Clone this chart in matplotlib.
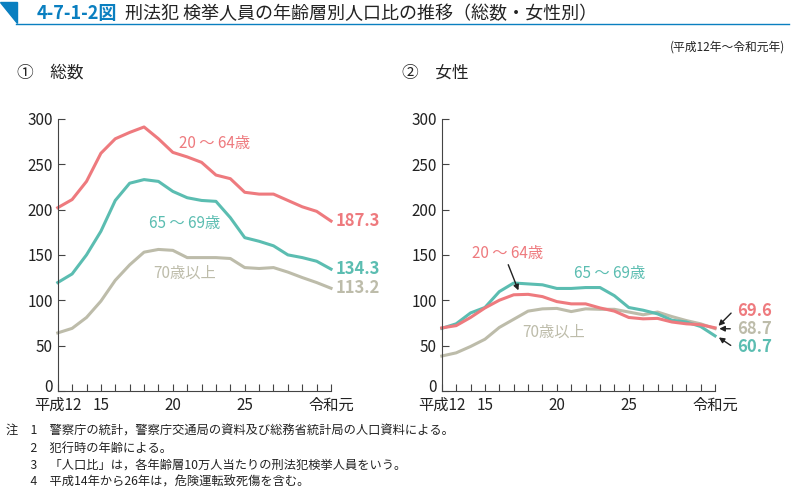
import numpy as np
import matplotlib
matplotlib.use("Agg")
import matplotlib.pyplot as plt
import matplotlib.transforms as mtransforms
from matplotlib.patches import Polygon

plt.rcParams['font.family'] = ['Noto Sans CJK JP', 'DejaVu Sans']

# years 平成12 .. 令和元 (20 points)
years = list(range(20))
tick_pos = [0, 3, 8, 13, 19]
tick_labels = ['平成12', '15', '20', '25', '令和元']

# ① 総数
total_20_64 = [202, 211, 231, 262, 278, 285, 291, 278, 263, 258, 252, 238, 234,
               219, 217, 217, 210, 203, 198, 187.3]
total_65_69 = [119.5, 129, 150, 176, 210, 229, 233, 231, 220, 213, 210, 209, 191,
               169, 165, 160, 150, 147, 143, 134.3]
total_70 = [64, 69, 81, 99, 122, 139, 153, 156, 155, 147, 147, 147, 146,
            136, 135, 136, 131, 125, 119.5, 113.2]

# ② 女性
female_20_64 = [69.5, 72, 81, 91.5, 100, 106, 106.5, 104, 98.5, 96, 96, 91.5, 88,
                81, 79.5, 80, 76, 74, 73, 69.6]
female_65_69 = [69, 74, 86, 92, 109.5, 119, 118, 117, 113, 113, 114, 114, 105,
                92, 89, 85, 78, 76, 71, 60.7]
female_70 = [38.5, 42, 49, 57, 70, 79, 88, 90.5, 91, 87.5, 90.5, 90, 90,
             87, 84, 87, 82, 77.6, 74, 68.7]

RED = '#ee7a7e'
TEAL = '#5bbdb1'
GRAY = '#bdbcaa'
BLUE = '#0a7fc0'
TXT = '#222222'

fig = plt.figure(figsize=(7.91, 4.93), dpi=100)

# title bar
fig.patches.append(Polygon([[0, 0.996], [0.021, 0.996], [0.021, 0.953]],
                           closed=True, transform=fig.transFigure,
                           color=BLUE, zorder=5))
fig.add_artist(plt.Line2D([0.02, 0.997], [0.951, 0.951], color=BLUE, lw=1.0,
                          transform=fig.transFigure))
fig.text(0.046, 0.972, '4-7-1-2図', color=BLUE, fontsize=13, fontweight='bold',
         va='center', ha='left')
fig.text(0.158, 0.972, '刑法犯 検挙人員の年齢層別人口比の推移（総数・女性別）',
         color=TXT, fontsize=13, va='center', ha='left')
fig.text(0.993, 0.905, '(平成12年～令和元年)', color=TXT, fontsize=8.5,
         va='center', ha='right')
fig.text(0.022, 0.852, '①　総数', color=TXT, fontsize=12, va='center')
fig.text(0.508, 0.852, '②　女性', color=TXT, fontsize=12, va='center')


def setup(ax):
    ax.set_xlim(0, 19)
    ax.set_ylim(0, 300)
    for s in ['top', 'right']:
        ax.spines[s].set_visible(False)
    for s in ['left', 'bottom']:
        ax.spines[s].set_color('#444444')
        ax.spines[s].set_linewidth(0.8)
    ax.set_yticks(range(0, 301, 50))
    ax.set_xticks(years, minor=True)
    ax.set_xticks(tick_pos)
    ax.set_xticklabels(tick_labels)
    ax.tick_params(axis='both', which='both', direction='in', length=5,
                   width=0.8, color='#444444', labelsize=11, labelcolor=TXT)
    ax.tick_params(axis='x', which='both', pad=4)
    # lift the "0" label a little so it clears the year labels
    lab0 = ax.get_yticklabels()[0]
    lab0.set_transform(lab0.get_transform() +
                       mtransforms.ScaledTranslation(0, 4 / 72, fig.dpi_scale_trans))


ax1 = fig.add_axes([0.073, 0.207, 0.3455, 0.552])
ax2 = fig.add_axes([0.5585, 0.207, 0.3455, 0.552])
for ax in (ax1, ax2):
    setup(ax)

lw = 2.2
ax1.plot(years, total_70, color=GRAY, lw=lw, clip_on=False)
ax1.plot(years, total_65_69, color=TEAL, lw=lw, clip_on=False)
ax1.plot(years, total_20_64, color=RED, lw=lw, clip_on=False)

ax1.text(10.9, 273, '20 ～ 64歳', color=RED, fontsize=11, ha='center', va='center')
ax1.text(8.85, 185, '65 ～ 69歳', color=TEAL, fontsize=11, ha='center', va='center')
ax1.text(8.85, 130, '70歳以上', color=GRAY, fontsize=11, ha='center', va='center')
for series, c in [(total_20_64, RED), (total_65_69, TEAL), (total_70, GRAY)]:
    ax1.text(19.35, series[-1], f'{series[-1]:.1f}', color=c, fontsize=12,
             fontweight='bold', ha='left', va='center')

ax2.plot(years, female_70, color=GRAY, lw=lw, clip_on=False)
ax2.plot(years, female_65_69, color=TEAL, lw=lw, clip_on=False)
ax2.plot(years, female_20_64, color=RED, lw=lw, clip_on=False)

ax2.text(4.6, 152, '20 ～ 64歳', color=RED, fontsize=11, ha='center', va='center')
ax2.text(11.7, 130, '65 ～ 69歳', color=TEAL, fontsize=11, ha='center', va='center')
ax2.text(7.8, 65, '70歳以上', color=GRAY, fontsize=11, ha='center', va='center')

arrow = dict(arrowstyle='-|>', color='#222222', lw=1.0, mutation_scale=8)
ax2.annotate('', xy=(5.4, 108), xytext=(4.55, 142), arrowprops=arrow)

# end labels with arrows (label y position, colour)
end_vals = [(female_20_64[-1], 88, RED), (female_70[-1], 68.5, GRAY),
            (female_65_69[-1], 48.5, TEAL)]
for v, ty, c in end_vals:
    ax2.text(20.5, ty, f'{v:.1f}', color=c, fontsize=12, fontweight='bold',
             ha='left', va='center')
    ax2.annotate('', xy=(19.1, v), xytext=(20.25, ty),
                 arrowprops=arrow, annotation_clip=False)

notes = ['注　1　警察庁の統計，警察庁交通局の資料及び総務省統計局の人口資料による。',
         '　　2　犯行時の年齢による。',
         '　　3　「人口比」は，各年齢層10万人当たりの刑法犯検挙人員をいう。',
         '　　4　平成14年から26年は，危険運転致死傷を含む。']
for i, n in enumerate(notes):
    fig.text(0.008, 0.125 - i * 0.034, n, color=TXT, fontsize=8.8, va='center')

fig.savefig('out.png', dpi=100)
